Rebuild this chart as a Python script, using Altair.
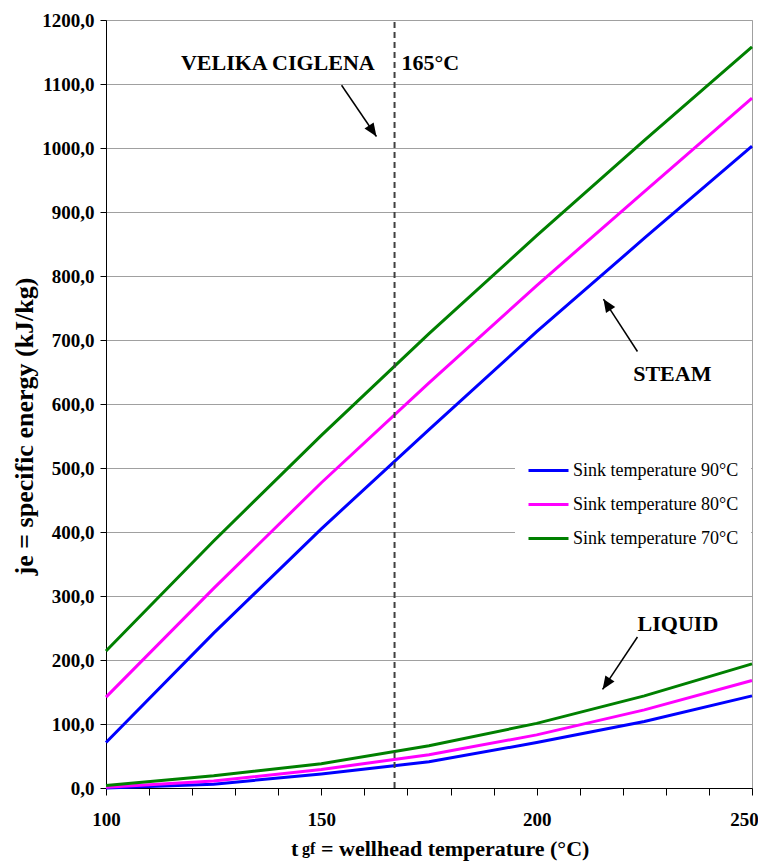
import altair as alt
import pandas as pd

# ---- data ----
temps = [100, 125, 150, 175, 200, 225, 250]

steam_90 = [71, 242, 405, 560, 713, 859, 1003]
steam_80 = [142, 312, 477, 633, 785, 932, 1078]
steam_70 = [214, 386, 551, 710, 863, 1012, 1158]

liquid_90 = [0, 6, 22, 41, 71, 104, 144]
liquid_80 = [1, 11, 29, 52, 83, 122, 168]
liquid_70 = [4, 19, 38, 66, 101, 144, 194]

sink_labels = ["Sink temperature 90°C", "Sink temperature 80°C", "Sink temperature 70°C"]
sink_colors = ["#0000FF", "#FF00FF", "#008000"]

site_temp = [167]

x_ticks = list(range(100, 251, 10))
y_ticks = list(range(0, 1201, 50))

rows = []
for label, steam, liquid in zip(sink_labels, [steam_90, steam_80, steam_70],
                                [liquid_90, liquid_80, liquid_70]):
    for t, v in zip(temps, steam):
        rows.append({"t": t, "je": v, "sink": label, "phase": "steam"})
    for t, v in zip(temps, liquid):
        rows.append({"t": t, "je": v, "sink": label, "phase": "liquid"})
df = pd.DataFrame(rows)

FONT = "Liberation Serif"

x_scale = alt.Scale(domain=[100, 250], nice=False, zero=False)
y_scale = alt.Scale(domain=[0, 1200], nice=False)

x_axis = alt.Axis(
    values=x_ticks,
    labelExpr="datum.value % 50 === 0 ? format(datum.value, 'd') : ''",
    title=None, grid=False, tickSize=7, tickColor="black", domainColor="black",
    labelPadding=15, labelFont=FONT, labelFontSize=19, labelFontWeight="bold",
    labelColor="black", labelFlush=False, labelOverlap=False,
    labelOffset={"condition": {"test": "datum.value === 250", "value": -8}, "value": 0},
)
y_axis = alt.Axis(
    values=y_ticks,
    labelExpr="datum.value % 100 === 0 ? replace(format(datum.value, '.1f'), '.', ',') : ''",
    title="je = specific energy (kJ/kg)", titleFont=FONT, titleFontSize=26,
    titleFontWeight="bold", titleColor="black", titleX=-82, titleY=406,
    titleAngle=270, titleBaseline="middle", titleAlign="center",
    grid=True, gridColor="#A0A0A0",
    gridOpacity={"condition": {"test": "datum.value % 100 !== 0", "value": 0}, "value": 1},
    tickSize=6, tickColor="black", domainColor="black",
    labelPadding=6, labelFont=FONT, labelFontSize=19, labelFontWeight="bold",
    labelColor="black", labelOverlap=False,
)

lines = alt.Chart(df).mark_line(strokeWidth=3).encode(
    x=alt.X("t:Q", scale=x_scale, axis=x_axis),
    y=alt.Y("je:Q", scale=y_scale, axis=y_axis),
    color=alt.Color(
        "sink:N",
        scale=alt.Scale(domain=sink_labels, range=sink_colors),
        legend=alt.Legend(
            title=None, orient="none", legendX=409, legendY=417,
            symbolType="stroke", symbolSize=1600, symbolStrokeWidth=3,
            labelFont=FONT, labelFontSize=18, labelColor="black",
            fillColor="white", padding=12, rowPadding=3, labelOffset=3,
            labelLimit=400,
        ),
    ),
    detail="phase:N",
)

site_df = pd.DataFrame({"t": site_temp, "y0": [0], "y1": [1200]})
site_rule = alt.Chart(site_df).mark_rule(
    color="#404040", strokeWidth=2, strokeDash=[6, 4]
).encode(x="t:Q", y="y0:Q", y2="y1:Q")

# annotation texts (data coordinates)
ann_df = pd.DataFrame({
    "text": ["VELIKA CIGLENA", "165°C", "STEAM", "LIQUID"],
    "t": [139.9, 175.3, 231.5, 232.8],
    "je": [1122, 1122, 636, 245],
})
ann_text = alt.Chart(ann_df).mark_text(
    font=FONT, fontSize=22, fontWeight="bold", color="black",
    align="center", baseline="alphabetic",
).encode(x="t:Q", y="je:Q", text="text:N")

# arrows: start -> tip
arrow_df = pd.DataFrame({
    "t0": [154.7, 223.4, 223.4],
    "y0": [1098, 682, 236],
    "t1": [162.8, 215.5, 215.3],
    "y1": [1018, 764, 154],
    "angle": [146, 327, 214],
})
arrow_line = alt.Chart(arrow_df).mark_rule(color="black", strokeWidth=1.5).encode(
    x="t0:Q", y="y0:Q", x2="t1:Q", y2="y1:Q"
)
arrow_head = alt.Chart(arrow_df).mark_point(
    shape="M0,0L-1,2.4L1,2.4Z", filled=True, color="black", opacity=1, size=121
).encode(x="t1:Q", y="y1:Q", angle=alt.Angle("angle:Q", scale=None))

# x-axis title with subscript
xt_df = pd.DataFrame({"part": ["t", "gf", "= wellhead temperature (°C)"]})
xt_t = alt.Chart(xt_df).transform_filter("datum.part === 't'").mark_text(
    font=FONT, fontSize=22, fontWeight="bold", color="black", align="left",
    baseline="alphabetic",
).encode(x=alt.value(185), y=alt.value(836), text="part:N")
xt_gf = alt.Chart(xt_df).transform_filter("datum.part === 'gf'").mark_text(
    font=FONT, fontSize=16, fontWeight="bold", color="black", align="left",
    baseline="alphabetic",
).encode(x=alt.value(196), y=alt.value(834), text="part:N")
xt_rest = alt.Chart(xt_df).transform_filter("datum.part.length > 2").mark_text(
    font=FONT, fontSize=22, fontWeight="bold", color="black", align="left",
    baseline="alphabetic",
).encode(x=alt.value(215), y=alt.value(836), text="part:N")

chart = alt.layer(
    lines, site_rule, ann_text, arrow_line, arrow_head, xt_t, xt_gf, xt_rest
).properties(
    width=646, height=768,
    autosize=alt.AutoSizeParams(type="none"),
    padding={"left": 98, "top": 12, "right": 6, "bottom": 78},
).configure_view(stroke="#A0A0A0", strokeWidth=1)

chart.save("out.html", embed_options={"renderer": "svg", "actions": False})
